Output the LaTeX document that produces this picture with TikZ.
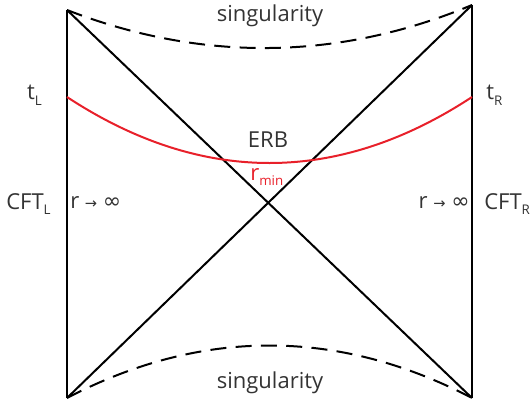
\documentclass[tikz,border=0pt]{standalone}
\usepackage{fontspec}
\setmainfont{Open Sans}
\newfontfamily\symfont{DejaVu Sans}
\definecolor{txt}{HTML}{333333}
\definecolor{erbred}{HTML}{E8202A}
\newcommand{\lsub}[1]{\raisebox{-0.5ex}{\fontsize{10}{11}\selectfont #1}}
\begin{document}
\begin{tikzpicture}[x=0.75pt,y=-0.75pt,
  edge/.style={line width=1.5pt,black},
  sing/.style={line width=1.5pt,black,dash pattern=on 12pt off 7pt},
  erb/.style={line width=1.5pt,erbred},
  lbl/.style={text=txt,font=\fontsize{16.5}{18}\selectfont,inner sep=0pt}]
\useasboundingbox (0,0) rectangle (530,410);
\coordinate (TL) at (67,10);
\coordinate (TR) at (472,5);
\coordinate (BL) at (67,398);
\coordinate (BR) at (472,398);
\coordinate (EL) at (67,97);
\coordinate (ER) at (472,97);
% boundaries
\draw[edge] (TL) -- (BL);
\draw[edge] (TR) -- (BR);
% horizons
\draw[edge] (TL) -- (BR);
\draw[edge] (TR) -- (BL);
% singularities
\draw[sing] (TL) .. controls (201,62) and (338,61) .. (TR);
\draw[sing] (BL) .. controls (201,328) and (338,328) .. (BR);
% ERB
\draw[erb] (EL) .. controls (201,185) and (338,185) .. (ER);
% labels
\node[lbl] (s1) at (270,16) {singularity};
\node[lbl] (s2) at (270,383) {singularity};
\node[lbl] (erbl) at (268,140) {ERB};
\node[lbl,text=erbred,anchor=west] (rmin) at (250,177) {r\lsub{min}};
\node[lbl,anchor=east] (tL) at (42,95) {t\lsub{L}};
\node[lbl,anchor=west] (tR) at (486,95) {t\lsub{R}};
\node[lbl,anchor=west] (cL) at (6,204) {CFT\lsub{L}};
\node[lbl,anchor=west] (cR) at (484,204) {CFT\lsub{R}};
\node[lbl,anchor=west] (iL) at (70,203) {r {\symfont\fontsize{11}{12}\selectfont →} {\symfont ∞}};
\node[lbl,anchor=east] (iR) at (470,203) {r {\symfont\fontsize{11}{12}\selectfont →} {\symfont ∞}};
\end{tikzpicture}
\end{document}
